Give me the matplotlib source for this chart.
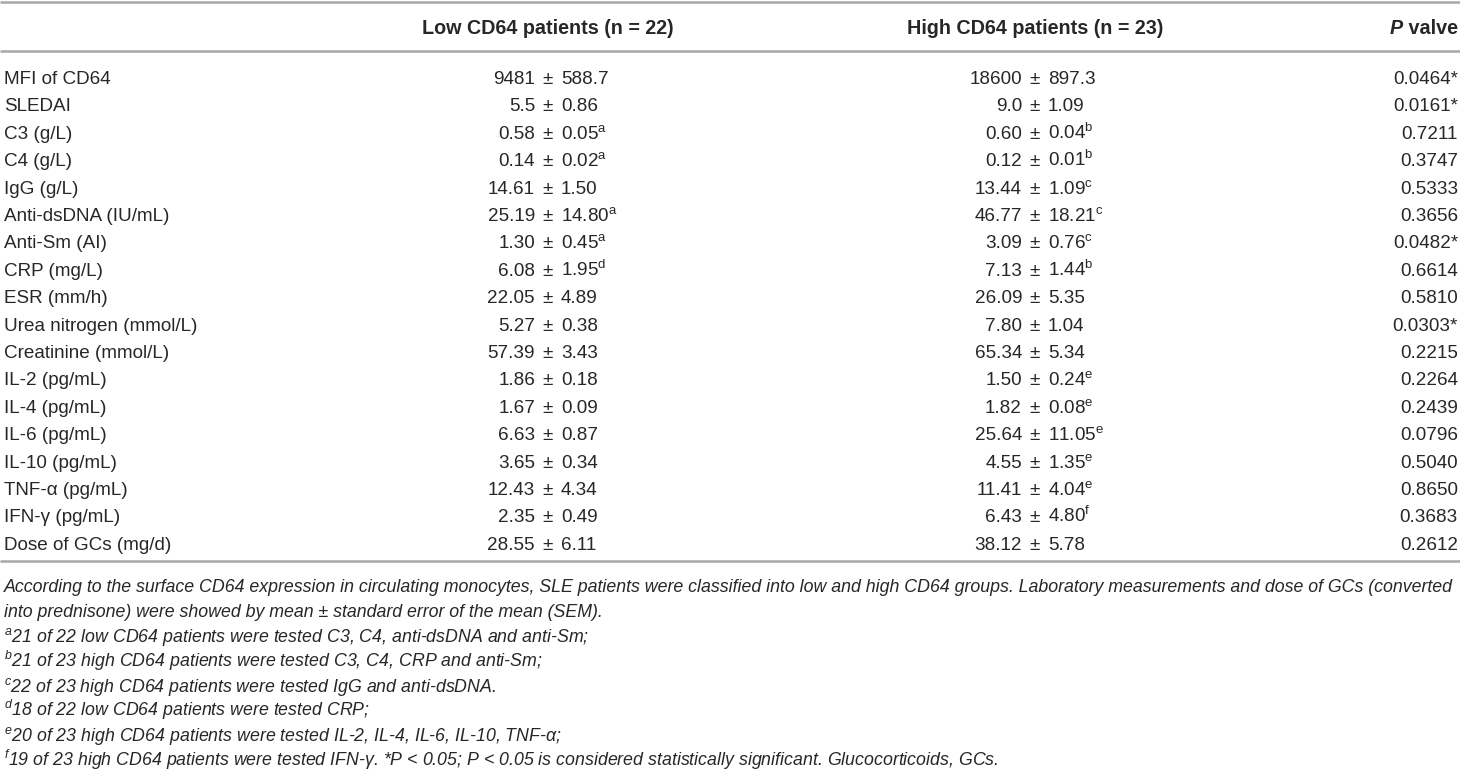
import matplotlib
matplotlib.use("Agg")
import matplotlib.pyplot as plt

# ======================================================
# DATOS DE LA TABLA
# ======================================================

labels = ["MFI of CD64", "SLEDAI", "C3 (g/L)", "C4 (g/L)", "IgG (g/L)",
          "Anti-dsDNA (IU/mL)", "Anti-Sm (AI)", "CRP (mg/L)", "ESR (mm/h)",
          "Urea nitrogen (mmol/L)", "Creatinine (mmol/L)", "IL-2 (pg/mL)",
          "IL-4 (pg/mL)", "IL-6 (pg/mL)", "IL-10 (pg/mL)", "TNF-α (pg/mL)",
          "IFN-γ (pg/mL)", "Dose of GCs (mg/d)"]

low_mean = ["9481", "5.5", "0.58", "0.14", "14.61", "25.19", "1.30", "6.08", "22.05",
            "5.27", "57.39", "1.86", "1.67", "6.63", "3.65", "12.43", "2.35", "28.55"]
low_sem = ["588.7", "0.86", "0.05", "0.02", "1.50", "14.80", "0.45", "1.95", "4.89",
           "0.38", "3.43", "0.18", "0.09", "0.87", "0.34", "4.34", "0.49", "6.11"]
low_note = ["", "", "a", "a", "", "a", "a", "d", "", "", "", "", "", "", "", "", "", ""]

high_mean = ["18600", "9.0", "0.60", "0.12", "13.44", "46.77", "3.09", "7.13", "26.09",
             "7.80", "65.34", "1.50", "1.82", "25.64", "4.55", "11.41", "6.43", "38.12"]
high_sem = ["897.3", "1.09", "0.04", "0.01", "1.09", "18.21", "0.76", "1.44", "5.35",
            "1.04", "5.34", "0.24", "0.08", "11.05", "1.35", "4.04", "4.80", "5.78"]
high_note = ["", "", "b", "b", "c", "c", "c", "b", "", "", "", "e", "e", "e", "e", "e", "f", ""]

p_values = ["0.0464*", "0.0161*", "0.7211", "0.3747", "0.5333", "0.3656", "0.0482*",
            "0.6614", "0.5810", "0.0303*", "0.2215", "0.2264", "0.2439", "0.0796",
            "0.5040", "0.8650", "0.3683", "0.2612"]

headers = ["Low CD64 patients (n = 22)", "High CD64 patients (n = 23)"]

footnotes = [
    ("", "According to the surface CD64 expression in circulating monocytes, SLE patients were "
         "classified into low and high CD64 groups. Laboratory measurements and dose of GCs (converted"),
    ("", "into prednisone) were showed by mean ± standard error of the mean (SEM)."),
    ("a", "21 of 22 low CD64 patients were tested C3, C4, anti-dsDNA and anti-Sm;"),
    ("b", "21 of 23 high CD64 patients were tested C3, C4, CRP and anti-Sm;"),
    ("c", "22 of 23 high CD64 patients were tested IgG and anti-dsDNA."),
    ("d", "18 of 22 low CD64 patients were tested CRP;"),
    ("e", "20 of 23 high CD64 patients were tested IL-2, IL-4, IL-6, IL-10, TNF-α;"),
    ("f", "19 of 23 high CD64 patients were tested IFN-γ. *P < 0.05; P < 0.05 is considered "
          "statistically significant. Glucocorticoids, GCs."),
]

# ======================================================
# ESTILO
# ======================================================

plt.rcParams["font.family"] = ["Liberation Sans", "DejaVu Sans"]
plt.rcParams["mathtext.fontset"] = "custom"
plt.rcParams["mathtext.rm"] = "Liberation Sans"
plt.rcParams["mathtext.it"] = "Liberation Sans:italic"
plt.rcParams["mathtext.bf"] = "Liberation Sans:bold"

TXT = "#2a2627"
LINEA = "#a8a8a8"
FS = 13.6
FS_HEAD = 14.2
FS_NOTA = 12.75

X_LABEL = 4
X_LOW = 548
X_HIGH = 1035
X_P = 1458
GAP = 13

Y_HEAD = 34
Y_ROW0 = 84
DY = 27.4
Y_NOTE0 = 592
DY_NOTE = 24.9

fig = plt.figure(figsize=(14.6, 7.8), dpi=100)
ax = fig.add_axes([0, 0, 1, 1])
ax.set_xlim(0, 1460)
ax.set_ylim(780, 0)
ax.axis("off")

# lineas horizontales
for yl in [2, 51, 561]:
    ax.plot([0, 1460], [yl, yl], color=LINEA, lw=1.8, solid_capstyle="butt")

# encabezado
ax.text(X_LOW, Y_HEAD, headers[0], ha="center", va="baseline",
        fontsize=FS_HEAD, fontweight="bold", color=TXT)
ax.text(X_HIGH, Y_HEAD, headers[1], ha="center", va="baseline",
        fontsize=FS_HEAD, fontweight="bold", color=TXT)
t_valve = ax.text(X_P, Y_HEAD, " valve", ha="right", va="baseline",
                  fontsize=FS_HEAD, fontweight="bold", color=TXT)
fig.canvas.draw()
bb = t_valve.get_window_extent()
ax.text(X_P - bb.width, Y_HEAD, "P", ha="right", va="baseline", fontsize=FS_HEAD,
        fontweight="bold", fontstyle="italic", color=TXT)


def sup(nota):
    if nota == "":
        return ""
    return r"$^{\mathrm{" + nota + "}}$"


# filas
for i, lab in enumerate(labels):
    y = Y_ROW0 + i * DY
    ax.text(X_LABEL, y, lab, ha="left", va="baseline", fontsize=FS, color=TXT)
    for xc, m, s, n in [(X_LOW, low_mean[i], low_sem[i], low_note[i]),
                        (X_HIGH, high_mean[i], high_sem[i], high_note[i])]:
        ax.text(xc - GAP, y, m, ha="right", va="baseline", fontsize=FS, color=TXT)
        ax.text(xc, y, "±", ha="center", va="baseline", fontsize=FS, color=TXT)
        ax.text(xc + GAP, y, s + sup(n), ha="left", va="baseline", fontsize=FS, color=TXT)
    ax.text(X_P, y, p_values[i], ha="right", va="baseline", fontsize=FS, color=TXT)

# notas al pie
for j, (letra, texto) in enumerate(footnotes):
    y = Y_NOTE0 + j * DY_NOTE
    pre = r"$^{\mathit{" + letra + "}}$" if letra else ""
    ax.text(X_LABEL, y, pre + texto, ha="left", va="baseline", fontsize=FS_NOTA,
            fontstyle="italic", color=TXT)

plt.savefig("out.png", dpi=100)
